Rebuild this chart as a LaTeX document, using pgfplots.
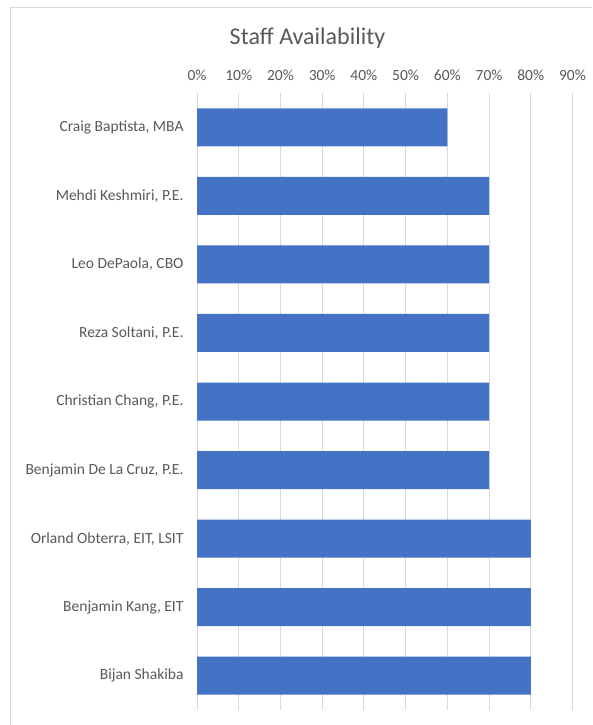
\documentclass[border=0pt]{standalone}
\usepackage{pgfplots}
\pgfplotsset{compat=1.18}
\usepackage{fontspec}
\setmainfont{Carlito}
\definecolor{barblue}{HTML}{4472C4}
\definecolor{txtgray}{HTML}{595959}
\definecolor{gridgray}{HTML}{D9D9D9}
\begin{document}
\begin{tikzpicture}
\useasboundingbox (0,0) rectangle (592pt,725pt);
\fill[white] (0,0) rectangle (592pt,725pt);
% chart frame (only left and top edges are visible)
\draw[gridgray, line width=1.5pt] (10.5pt,0) -- (10.5pt,717.5pt) -- (592pt,717.5pt);
\node[txtgray, font=\fontsize{24}{28}\selectfont] at (307.5pt,687pt) {Staff Availability};
\begin{axis}[
    at={(197pt,15pt)}, anchor=south west,
    scale only axis,
    width=375.5pt, height=617pt,
    xbar, bar width=38pt,
    xmin=0, xmax=90,
    ymin=-0.5, ymax=8.5,
    y dir=reverse,
    xtick={0,10,...,90},
    xticklabels={0\%,10\%,20\%,30\%,40\%,50\%,60\%,70\%,80\%,90\%},
    xticklabel pos=top,
    ytick={0,...,8},
    yticklabels={{Craig Baptista, MBA},{Mehdi Keshmiri, P.E.},{Leo DePaola, CBO},{Reza Soltani, P.E.},{Christian Chang, P.E.},{Benjamin De La Cruz, P.E.},{Orland Obterra, EIT, LSIT},{Benjamin Kang, EIT},{Bijan Shakiba}},
    axis line style={draw=none},
    major tick length=0pt,
    xmajorgrids,
    grid style={gridgray, line width=1pt},
    tick label style={txtgray, font=\fontsize{15.5}{18}\selectfont},
    xticklabel style={yshift=9pt},
    yticklabel style={xshift=-10pt},
    /pgf/number format/assume math mode=true,
]
\addplot[fill=barblue, draw=none] coordinates {
    (60,0) (70,1) (70,2) (70,3) (70,4) (70,5) (80,6) (80,7) (80,8)
};
\end{axis}
\end{tikzpicture}
\end{document}
